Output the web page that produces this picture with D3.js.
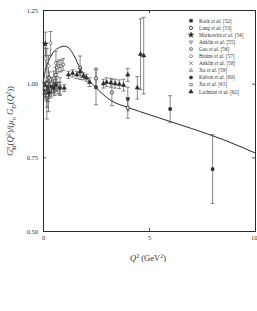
<!DOCTYPE html>
<html>
<head>
<meta charset="utf-8">
<script src="https://cdn.jsdelivr.net/npm/d3@7"></script>
<style>
  body { margin: 0; background: #fff; }
  svg text { font-family: "Liberation Serif", "DejaVu Serif", serif; fill: #333; }
</style>
</head>
<body>
<div id="chart"></div>
<script>
// data: [Q2, ratio, error]
const rock = [[2.5, 0.988, 0.06], [4.0, 0.948, 0.04], [6.0, 0.914, 0.045], [8.0, 0.71, 0.117]];
const lung = [[1.75, 1.054, 0.04], [2.5, 1.018, 0.035], [3.25, 0.97, 0.045], [4.0, 0.918, 0.035]];
const markowitz = [[0.11, 1.135, 0.04], [0.18, 1.0, 0.12], [0.26, 0.965, 0.06]];
const anklin55 = [[0.07, 0.985, 0.02], [0.13, 0.975, 0.02], [0.2, 0.99, 0.02], [0.3, 0.985, 0.02], [0.5, 0.995, 0.025], [0.65, 1.0, 0.025], [0.8, 0.99, 0.03]];
const gao = [[0.1, 0.975, 0.03], [0.19, 0.955, 0.035]];
const bruins = [[0.125, 1.085, 0.035], [0.26, 1.06, 0.035], [0.36, 1.137, 0.04], [0.61, 1.07, 0.04]];
const anklin58 = [[0.24, 0.96, 0.02], [0.4, 0.975, 0.02], [0.55, 0.98, 0.02], [0.7, 0.985, 0.02]];
const xu59 = [[0.1, 0.97, 0.015], [0.193, 0.96, 0.02]];
const kubon = [[0.07, 0.98, 0.015], [0.12, 0.99, 0.015], [0.2, 0.985, 0.015], [0.3, 0.97, 0.02], [0.4, 0.99, 0.02], [0.5, 0.985, 0.02], [0.6, 0.995, 0.02], [0.8, 0.985, 0.02]];
const xu61 = [[0.1, 0.985, 0.02], [0.2, 1.0, 0.02], [0.3, 1.02, 0.02], [0.4, 1.0, 0.02], [0.5, 1.018, 0.025], [0.6, 1.03, 0.025], [0.65, 1.055, 0.02], [0.75, 1.06, 0.02], [0.85, 1.06, 0.02], [0.95, 1.065, 0.02]];
const lachniet = [[1.0, 0.985, 0.012], [1.2, 1.03, 0.012], [1.4, 1.035, 0.012], [1.6, 1.03, 0.012], [1.75, 1.04, 0.012], [1.9, 1.025, 0.012], [2.05, 1.02, 0.012], [2.2, 1.005, 0.015], [2.85, 1.0, 0.015], [3.0, 1.005, 0.015], [3.2, 1.003, 0.015], [3.4, 1.0, 0.015], [3.6, 0.998, 0.015], [3.8, 0.995, 0.02], [4.0, 1.03, 0.022], [4.45, 0.986, 0.038], [4.6, 1.1, 0.12], [4.75, 1.095, 0.13]];

// model curve
const curveQ2 = [0, 0.1, 0.2, 0.35, 0.5, 0.7, 1.0, 1.2, 1.5, 1.75, 2.0, 2.45, 3.16, 4.1, 5.0, 7.0, 8.5, 10];
const curveVal = [1.0, 1.04, 1.065, 1.09, 1.108, 1.12, 1.127, 1.122, 1.09, 1.052, 1.025, 0.99, 0.945, 0.917, 0.895, 0.848, 0.81, 0.765];

const xTicks = [0, 5, 10];
const yTicks = [0.5, 0.75, 1.0, 1.25];

const series = [
  { name: "Rock", ref: "[52]", data: rock, sym: d3.symbolSquare, fill: true },
  { name: "Lung", ref: "[53]", data: lung, sym: d3.symbolCircle, fill: false, thick: true },
  { name: "Markowitz", ref: "[54]", data: markowitz, sym: d3.symbolStar, fill: true },
  { name: "Anklin", ref: "[55]", data: anklin55, sym: d3.symbolTriangle2, fill: false, rot: 180 },
  { name: "Gao", ref: "[56]", data: gao, sym: d3.symbolCircle, fill: false, dot: true },
  { name: "Bruins", ref: "[57]", data: bruins, sym: d3.symbolSquare2, fill: false, rot: 45 },
  { name: "Anklin", ref: "[58]", data: anklin58, sym: d3.symbolTimes, fill: false },
  { name: "Xu", ref: "[59]", data: xu59, sym: d3.symbolTriangle2, fill: false },
  { name: "Kubon", ref: "[60]", data: kubon, sym: d3.symbolCircle, fill: true },
  { name: "Xu", ref: "[61]", data: xu61, sym: d3.symbolSquare2, fill: false },
  { name: "Lachniet", ref: "[62]", data: lachniet, sym: d3.symbolTriangle, fill: true }
];

const W = 257, H = 311;
const x = d3.scaleLinear().domain([0, 10]).range([43, 255]);
const y = d3.scaleLinear().domain([0.5, 1.25]).range([231, 10]);

const svg = d3.select("#chart").append("svg").attr("width", W).attr("height", H);
const ink = "#2a2a2a";

// frame + inward ticks
const axB = svg.append("g").attr("transform", `translate(0,${y(0.5)})`)
  .call(d3.axisBottom(x).tickValues(xTicks).tickSize(-3).tickFormat(d3.format("d")));
const axT = svg.append("g").attr("transform", `translate(0,${y(1.25)})`)
  .call(d3.axisTop(x).tickValues(xTicks).tickSize(-3).tickFormat(""));
const axL = svg.append("g").attr("transform", `translate(${x(0)},0)`)
  .call(d3.axisLeft(y).tickValues(yTicks).tickSize(-3).tickFormat(d3.format(".2f")));
const axR = svg.append("g").attr("transform", `translate(${x(10)},0)`)
  .call(d3.axisRight(y).tickValues(yTicks).tickSize(-3).tickFormat(""));
[axB, axT, axL, axR].forEach(a => {
  a.select(".domain").attr("stroke", ink).attr("stroke-width", 1);
  a.selectAll(".tick line").attr("stroke", ink).attr("stroke-width", 0.8);
  a.selectAll("text").style("font-size", "6.5px").attr("fill", "#333");
});
axB.selectAll("text").attr("dy", "0.9em");
// keep the last label inside the page
axB.selectAll(".tick text").filter(d => d === 10).attr("text-anchor", "end").attr("x", 2);
axL.selectAll("text").attr("x", -5);

// model curve
const line = d3.line().x(d => x(d[0])).y(d => y(d[1])).curve(d3.curveMonotoneX);
svg.append("path")
  .datum(curveQ2.map((q, i) => [q, curveVal[i]]))
  .attr("d", line)
  .attr("fill", "none")
  .attr("stroke", ink)
  .attr("stroke-width", 1);

// error bars + markers
const cap = 2;
const drawMarker = (g, s) => {
  const size = s.sym === d3.symbolStar ? 9 : (s.sym === d3.symbolTimes ? 10 : 8);
  g.append("path")
    .attr("d", d3.symbol(s.sym, size)())
    .attr("transform", s.rot ? `rotate(${s.rot})` : null)
    .attr("fill", s.fill ? ink : "#fff")
    .attr("stroke", ink)
    .attr("stroke-width", s.thick ? 0.9 : 0.55);
  if (s.dot) g.append("circle").attr("r", 0.5).attr("fill", ink);
};

series.forEach(s => {
  const pts = svg.append("g").selectAll("g").data(s.data).join("g");
  pts.append("line")
    .attr("x1", d => x(d[0])).attr("x2", d => x(d[0]))
    .attr("y1", d => y(d[1] - d[2])).attr("y2", d => y(d[1] + d[2]))
    .attr("stroke", "#555").attr("stroke-width", 0.7);
  pts.append("line")
    .attr("x1", d => x(d[0]) - cap).attr("x2", d => x(d[0]) + cap)
    .attr("y1", d => y(d[1] + d[2])).attr("y2", d => y(d[1] + d[2]))
    .attr("stroke", "#555").attr("stroke-width", 0.7);
  pts.append("line")
    .attr("x1", d => x(d[0]) - cap).attr("x2", d => x(d[0]) + cap)
    .attr("y1", d => y(d[1] - d[2])).attr("y2", d => y(d[1] - d[2]))
    .attr("stroke", "#555").attr("stroke-width", 0.7);
  pts.each(function(d) {
    const g = d3.select(this).append("g").attr("transform", `translate(${x(d[0])},${y(d[1])})`);
    drawMarker(g, s);
  });
});

// legend
const legend = svg.append("g").attr("transform", "translate(191,20.7)");
series.forEach((s, i) => {
  const row = legend.append("g").attr("transform", `translate(0,${i * 7.1})`);
  drawMarker(row.append("g"), s);
  const t = row.append("text").attr("x", 8).attr("y", 1.8).style("font-size", "5.2px");
  t.append("tspan").text(s.name + " ");
  t.append("tspan").style("font-style", "italic").text("et al.");
  t.append("tspan").text(" " + s.ref);
});

// rich text helper: parts of [text, kind]
const rich = (sel, parts) => {
  parts.forEach(([txt, kind, dx]) => {
    const ts = sel.append("tspan").text(txt);
    if (kind === "i") ts.style("font-style", "italic");
    if (kind === "sup") ts.attr("baseline-shift", "super").style("font-size", "70%");
    if (kind === "sub") ts.attr("baseline-shift", "sub").style("font-size", "70%");
    if (kind === "isub") ts.attr("baseline-shift", "sub").style("font-size", "70%").style("font-style", "italic");
    if (kind === "isup") ts.attr("baseline-shift", "super").style("font-size", "70%").style("font-style", "italic");
    if (dx) ts.attr("dx", dx);
  });
};

const xl = svg.append("text").attr("x", 148).attr("y", 261)
  .attr("text-anchor", "middle").style("font-size", "8.5px");
rich(xl, [["Q", "i"], ["2", "sup"], [" (GeV"], ["2", "sup"], [")"]]);

const yl = svg.append("text")
  .attr("transform", "translate(13,121) rotate(-90)")
  .attr("text-anchor", "middle").style("font-size", "8.8px");
rich(yl, [["G", "i"], ["n", "isup"], ["M", "isub", -4], ["(", null], ["Q", "i"], ["2", "sup"], [")/(", null], ["μ", "i"], ["n", "isub"], [" G", "i"], ["D", "isub"], ["(", null], ["Q", "i"], ["2", "sup"], ["))", null]]);
</script>
</body>
</html>
